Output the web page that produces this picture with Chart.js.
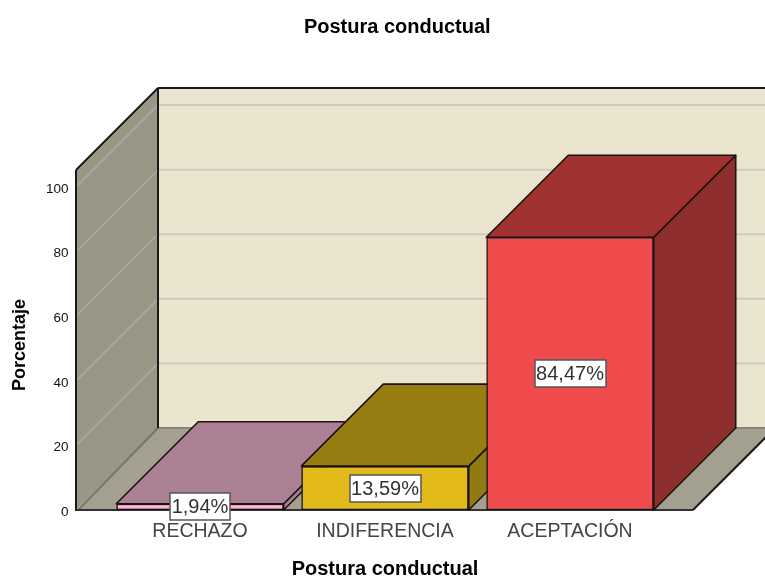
<!DOCTYPE html>
<html><head><meta charset="utf-8">
<style>html,body{margin:0;padding:0;background:#fff}#w{width:765px;height:579px;position:relative}canvas{display:block}</style>
<script src="https://cdn.jsdelivr.net/npm/chart.js@4"></script>
</head><body><div id="w"><canvas id="c" width="765" height="579"></canvas></div>
<script>
const categories = ['RECHAZO', 'INDIFERENCIA', 'ACEPTACIÓN'];
const values = [1.94, 13.59, 84.47];
const valueLabels = ['1,94%', '13,59%', '84,47%'];
const yTicks = [0, 20, 40, 60, 80, 100];
const frontColors = ['#fdb5d8', '#e2bb1b', '#ef4b4d'];
const topColors = ['#ab8094', '#987e12', '#a03232'];
const sideColors = ['#a67f92', '#927a12', '#8f2e2e'];
const chartTitle = 'Postura conductual';
const xTitle = 'Postura conductual';
const yTitle = 'Porcentaje';
const FONT = '"Liberation Sans", Arial, sans-serif';
const DEPTH = 82, WALL_X = 76, FLOOR_RIGHT = 693, Y_MAX = 105.3;

function poly(ctx, pts, fill, stroke, lw) {
  ctx.beginPath();
  pts.forEach((p, i) => i ? ctx.lineTo(p[0], p[1]) : ctx.moveTo(p[0], p[1]));
  ctx.closePath();
  if (fill) { ctx.fillStyle = fill; ctx.fill(); }
  if (stroke) { ctx.strokeStyle = stroke; ctx.lineWidth = lw; ctx.lineJoin = 'round'; ctx.stroke(); }
}
function seg(ctx, a, b, color, lw) {
  ctx.beginPath(); ctx.moveTo(a[0], a[1]); ctx.lineTo(b[0], b[1]);
  ctx.strokeStyle = color; ctx.lineWidth = lw; ctx.stroke();
}
const scene = {
  id: 'scene',
  afterLayout(chart) {
    chart.titleBlock.left += 66; chart.titleBlock.right += 66;
  },
  beforeDatasetsDraw(chart) {
    const ctx = chart.ctx, y = chart.scales.y;
    const y0 = y.getPixelForValue(0), yT = y.getPixelForValue(Y_MAX);
    const bx = WALL_X + DEPTH, W = chart.width + 20;
    ctx.save();
    poly(ctx, [[bx, yT - DEPTH], [W, yT - DEPTH], [W, y0 - DEPTH], [bx, y0 - DEPTH]], '#ebe5d0');
    poly(ctx, [[WALL_X, yT], [bx, yT - DEPTH], [bx, y0 - DEPTH], [WALL_X, y0]], '#9a9786');
    poly(ctx, [[WALL_X, y0], [FLOOR_RIGHT, y0], [FLOOR_RIGHT + DEPTH, y0 - DEPTH], [bx, y0 - DEPTH]], '#a3a08f');
    yTicks.forEach(v => {
      const p = y.getPixelForValue(v);
      if (v > 0) {
        seg(ctx, [bx, p - DEPTH], [W, p - DEPTH], '#cfcabb', 2);
        seg(ctx, [WALL_X, p], [bx, p - DEPTH], '#aeaba0', 1.5);
      }
    });
    seg(ctx, [WALL_X + 2, y0], [bx, y0 - DEPTH], '#77766c', 2);
    seg(ctx, [bx, y0 - DEPTH], [W, y0 - DEPTH], '#85847a', 2);
    const dark = '#1a1a1a';
    seg(ctx, [WALL_X, y0 + 1], [WALL_X, yT], dark, 2);
    seg(ctx, [WALL_X, yT], [bx, yT - DEPTH], dark, 2);
    seg(ctx, [bx, yT - DEPTH], [bx, y0 - DEPTH], dark, 2);
    seg(ctx, [bx, yT - DEPTH], [W, yT - DEPTH], dark, 2);
    seg(ctx, [WALL_X, y0], [FLOOR_RIGHT, y0], '#333', 2);
    seg(ctx, [FLOOR_RIGHT, y0], [FLOOR_RIGHT + DEPTH, y0 - DEPTH], dark, 2);
    chart.getDatasetMeta(0).data.forEach((b, i) => {
      const half = b.width / 2, l = b.x - half, r = b.x + half, t = b.y, base = b.base;
      poly(ctx, [[r, t], [r + DEPTH, t - DEPTH], [r + DEPTH, base - DEPTH], [r, base]], sideColors[i], '#1c1212', 1.6);
      poly(ctx, [[l, t], [l + DEPTH, t - DEPTH], [r + DEPTH, t - DEPTH], [r, t]], topColors[i], '#1c1212', 1.6);
    });
    ctx.restore();
  },
  afterDatasetsDraw(chart) {
    const ctx = chart.ctx;
    ctx.save();
    ctx.font = '20px ' + FONT;
    ctx.textAlign = 'center'; ctx.textBaseline = 'middle';
    chart.getDatasetMeta(0).data.forEach((b, i) => {
      const cy = (b.y + b.base) / 2, tw = ctx.measureText(valueLabels[i]).width;
      const bw = Math.round(tw) + 3, bh = 27, x = Math.round(b.x - bw / 2), yy = Math.round(cy - bh / 2);
      ctx.fillStyle = '#fff'; ctx.fillRect(x, yy, bw, bh);
      ctx.strokeStyle = '#555'; ctx.lineWidth = 1.5; ctx.strokeRect(x, yy, bw, bh);
      ctx.fillStyle = '#333'; ctx.fillText(valueLabels[i], b.x, cy + 1);
    });
    ctx.translate(20, 345); ctx.rotate(-Math.PI / 2);
    ctx.font = 'bold 18px ' + FONT; ctx.fillStyle = '#000';
    ctx.fillText(yTitle, 0, 0);
    ctx.restore();
  }
};
new Chart(document.getElementById('c'), {
  type: 'bar',
  data: { labels: categories, datasets: [{
    data: values, backgroundColor: frontColors, borderColor: '#1c1212', borderWidth: 1.6,
    barPercentage: 1, categoryPercentage: 0.905, borderSkipped: false
  }]},
  plugins: [scene],
  options: {
    responsive: false, animation: false, devicePixelRatio: 1,
    layout: { padding: { top: 15, right: 102.5, left: 0, bottom: 0 } },
    plugins: {
      legend: { display: false }, tooltip: { enabled: false },
      title: { display: true, text: chartTitle, color: '#000', font: { family: FONT, size: 20, weight: 'bold' }, padding: { top: 0, bottom: 131 } }
    },
    scales: {
      x: {
        afterFit(s) { s.height = 69; },
        grid: { display: false, drawTicks: false }, border: { display: false },
        ticks: { color: '#444', font: { family: FONT, size: 19.5 }, padding: 10, maxRotation: 0, autoSkip: false },
        title: { display: true, text: xTitle, color: '#000', font: { family: FONT, size: 20, weight: 'bold' }, padding: { top: 0, bottom: -2 } }
      },
      y: {
        min: 0, max: Y_MAX,
        afterFit(s) { s.width = 107.5; },
        afterBuildTicks(s) { s.ticks = yTicks.map(v => ({ value: v })); },
        grid: { display: false, drawTicks: false }, border: { display: false },
        ticks: { color: '#111', font: { family: FONT, size: 13.5 }, padding: 39, labelOffset: 2, callback: v => v }
      }
    }
  }
});
</script></body></html>
